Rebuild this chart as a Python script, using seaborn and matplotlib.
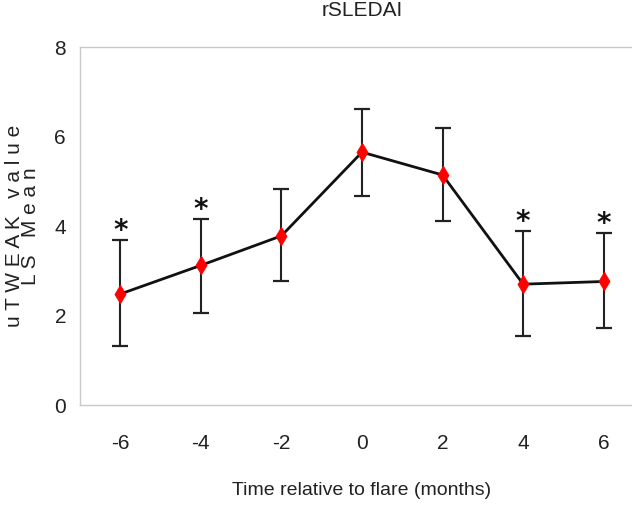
import matplotlib
matplotlib.use("Agg")
import matplotlib.pyplot as plt
import seaborn as sns
import pandas as pd
import numpy as np

months = [-6, -4, -2, 0, 2, 4, 6]
ls_mean = [2.48, 3.12, 3.78, 5.65, 5.14, 2.70, 2.76]
err_low = [1.32, 2.05, 2.76, 4.66, 4.11, 1.55, 1.73]
err_high = [3.69, 4.16, 4.82, 6.61, 6.18, 3.89, 3.85]
significant = [True, True, False, False, False, True, True]
y_ticks = [0, 2, 4, 6, 8]
title = "rSLEDAI"
xlabel = "Time relative to flare (months)"
ylabel = "u T W E A K   v a l u e\nL S   M e a n"

sns.set_theme(style="white")
plt.rcParams["font.family"] = ["Liberation Sans", "DejaVu Sans"]

df = pd.DataFrame({"month": months, "mean": ls_mean, "lo": err_low, "hi": err_high})

fig = plt.figure(figsize=(6.32, 5.11), dpi=100)
ax = fig.add_axes([80 / 632, 1 - 405 / 511, 564 / 632, 358 / 511])

ax.errorbar(df["month"], df["mean"],
            yerr=[df["mean"] - df["lo"], df["hi"] - df["mean"]],
            fmt="none", ecolor="#222222", elinewidth=1.5, capsize=6, capthick=1.6, zorder=2)
sns.lineplot(data=df, x="month", y="mean", color="#111111", linewidth=2, ax=ax, zorder=3)
sns.scatterplot(data=df, x="month", y="mean", marker="d", s=90, color="#ff0000",
                edgecolor="#ff0000", linewidth=0.5, ax=ax, zorder=4)

for m, hi, sig in zip(months, err_high, significant):
    if sig:
        ax.annotate("*", xy=(m, hi), xytext=(0, -4), textcoords="offset points",
                    ha="center", va="bottom", fontsize=20, fontweight="bold",
                    family="DejaVu Sans", color="#111111")

ax.set_xlim(-7, 7)
ax.set_ylim(0, 8)
ax.set_yticks(y_ticks)
ax.set_xticks(months)
ax.set_xticklabels([str(m) for m in months], fontsize=15)
ax.set_yticklabels([str(v) for v in y_ticks], fontsize=15)
ax.set_xticks(np.arange(-7, 8, 2), minor=True)
ax.tick_params(axis="x", which="major", length=0, pad=21, colors="#222222")
ax.tick_params(axis="x", which="minor", length=6, width=1, color="#c8c8c8", direction="out")
ax.tick_params(axis="y", which="major", length=4, width=1, pad=6, colors="#222222")
ax.tick_params(axis="y", which="major", color="#c8c8c8")

for s in ax.spines.values():
    s.set_color("#c8c8c8")
    s.set_linewidth(1)

ax.set_xlabel(xlabel, fontsize=14, labelpad=21, color="#222222")
ax.set_ylabel(ylabel, fontsize=15, labelpad=10, color="#222222", linespacing=0.8)
ax.grid(False)

fig.text(362 / 632, 1 - 16 / 511, title, ha="center", va="baseline", fontsize=15, color="#222222")

fig.savefig("out.png", dpi=100)
